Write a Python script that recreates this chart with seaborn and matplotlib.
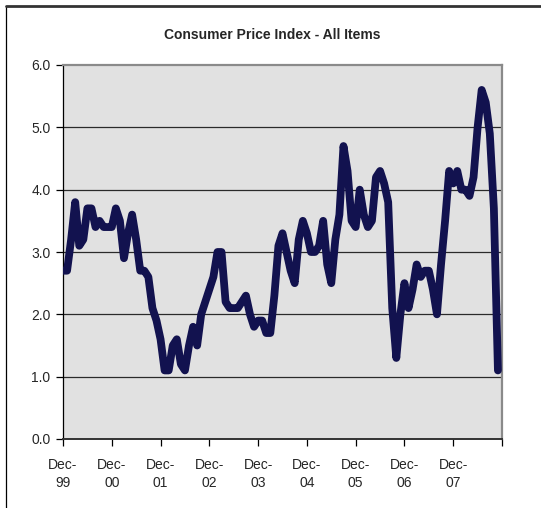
import matplotlib
matplotlib.use("Agg")
import matplotlib.pyplot as plt
from matplotlib.lines import Line2D
import numpy as np
import pandas as pd
import seaborn as sns

# Year-over-year change in the CPI (All Items), monthly, Dec-1999 .. Nov-2008
cpi_2000 = [2.7, 2.7, 3.2, 3.8, 3.1, 3.2, 3.7, 3.7, 3.4, 3.5, 3.4, 3.4]   # Dec-99 .. Nov-00
cpi_2001 = [3.4, 3.7, 3.5, 2.9, 3.3, 3.6, 3.2, 2.7, 2.7, 2.6, 2.1, 1.9]   # Dec-00 .. Nov-01
cpi_2002 = [1.6, 1.1, 1.1, 1.5, 1.6, 1.2, 1.1, 1.5, 1.8, 1.5, 2.0, 2.2]   # Dec-01 .. Nov-02
cpi_2003 = [2.4, 2.6, 3.0, 3.0, 2.2, 2.1, 2.1, 2.1, 2.2, 2.3, 2.0, 1.8]   # Dec-02 .. Nov-03
cpi_2004 = [1.9, 1.9, 1.7, 1.7, 2.3, 3.1, 3.3, 3.0, 2.7, 2.5, 3.2, 3.5]   # Dec-03 .. Nov-04
cpi_2005 = [3.3, 3.0, 3.0, 3.1, 3.5, 2.8, 2.5, 3.2, 3.6, 4.7, 4.3, 3.5]   # Dec-04 .. Nov-05
cpi_2006 = [3.4, 4.0, 3.6, 3.4, 3.5, 4.2, 4.3, 4.1, 3.8, 2.1, 1.3, 2.0]   # Dec-05 .. Nov-06
cpi_2007 = [2.5, 2.1, 2.4, 2.8, 2.6, 2.7, 2.7, 2.4, 2.0, 2.8, 3.5, 4.3]   # Dec-06 .. Nov-07
cpi_2008 = [4.1, 4.3, 4.0, 4.0, 3.9, 4.2, 5.0, 5.6, 5.4, 4.9, 3.7, 1.1]   # Dec-07 .. Nov-08

tick_labels = ["Dec-\n99", "Dec-\n00", "Dec-\n01", "Dec-\n02", "Dec-\n03",
               "Dec-\n04", "Dec-\n05", "Dec-\n06", "Dec-\n07"]
y_ticks = [0.0, 1.0, 2.0, 3.0, 4.0, 5.0, 6.0]

values = (cpi_2000 + cpi_2001 + cpi_2002 + cpi_2003 + cpi_2004 +
          cpi_2005 + cpi_2006 + cpi_2007 + cpi_2008)
df = pd.DataFrame({"month": np.arange(len(values)), "cpi": values})

sns.set_theme(style="white")
plt.rcParams["font.family"] = ["Liberation Sans", "DejaVu Sans"]

fig = plt.figure(figsize=(5.41, 5.08), dpi=100)
ax = fig.add_axes([63 / 541, 1 - 439 / 508, (502 - 63) / 541, (439 - 65) / 508])
ax.set_facecolor("#e1e1e1")

for y in y_ticks[1:-1]:
    ax.axhline(y, color="#2a2a2a", lw=0.9, zorder=1)

sns.lineplot(data=df, x="month", y="cpi", ax=ax, color="#12124f",
             linewidth=5.6, solid_capstyle="round", solid_joinstyle="round",
             zorder=3)

ax.set_xlim(0, 108)
ax.set_ylim(0, 6)
ax.set_xticks(np.arange(0, 109, 12))
ax.set_xticklabels(tick_labels + [""], fontsize=10, linespacing=1.3)
ax.set_yticks(y_ticks)
ax.set_yticklabels([f"{v:.1f}" for v in y_ticks], fontsize=10)
ax.set_xlabel("")
ax.set_ylabel("")
ax.tick_params(axis="both", direction="out", length=5, width=0.9,
               color="black", bottom=True, left=True)
ax.tick_params(axis="x", pad=9)
ax.tick_params(axis="y", pad=4)

for side in ("top", "right"):
    ax.spines[side].set_color("#8a8a8a")
    ax.spines[side].set_linewidth(1.6)
ax.spines["left"].set_color("black")
ax.spines["left"].set_linewidth(0.9)
ax.spines["bottom"].set_color("#333333")
ax.spines["bottom"].set_linewidth(1.4)

fig.text(0.503, 1 - 35 / 508, "Consumer Price Index - All Items",
         ha="center", va="center", fontsize=10, fontweight="bold",
         family=["Liberation Sans Narrow", "Liberation Sans", "DejaVu Sans"])

# chart frame: left and top edges
fig.add_artist(Line2D([6 / 541, 6 / 541], [0, 1 - 6 / 508], color="black", lw=0.9))
fig.add_artist(Line2D([6 / 541, 1], [1 - 6 / 508, 1 - 6 / 508], color="#333333", lw=2))

fig.savefig("out.png", dpi=100)
